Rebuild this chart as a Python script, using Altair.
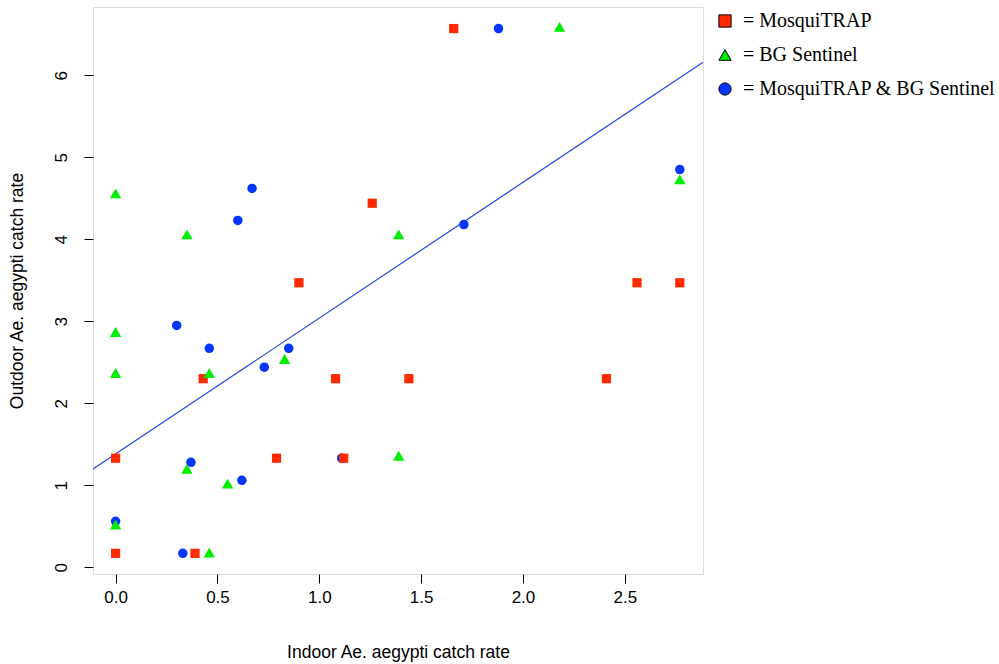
import altair as alt
import pandas as pd

# --- data ---
trap_names = ["MosquiTRAP", "BG Sentinel", "MosquiTRAP & BG Sentinel"]
trap_colors = ["#FF2A00", "#00EE00", "#0036FF"]
trap_shapes = ["square", "triangle-up", "circle"]
trap_sizes = [85, 130, 90]

mt_x = [0.00, 0.00, 0.39, 0.43, 0.79, 0.90, 1.08, 1.12, 1.26, 1.44, 1.66, 2.41, 2.56, 2.77]
mt_y = [0.17, 1.33, 0.17, 2.30, 1.33, 3.47, 2.30, 1.33, 4.44, 2.30, 6.57, 2.30, 3.47, 3.47]

bg_x = [0.00, 0.35, 0.00, 0.00, 0.46, 0.83, 0.35, 0.55, 0.00, 0.46, 1.39, 1.39, 2.18, 2.77]
bg_y = [4.56, 4.06, 2.87, 2.37, 2.37, 2.54, 1.20, 1.02, 0.52, 0.18, 1.36, 4.06, 6.59, 4.73]

both_x = [0.67, 0.60, 0.30, 0.46, 0.85, 0.73, 0.37, 0.62, 1.11, 0.00, 0.33, 1.71, 1.88, 2.77]
both_y = [4.62, 4.23, 2.95, 2.67, 2.67, 2.44, 1.28, 1.06, 1.33, 0.56, 0.17, 4.18, 6.57, 4.85]

fit_intercept = 1.383
fit_slope = 1.656

x_ticks = [0.0, 0.5, 1.0, 1.5, 2.0, 2.5]
y_ticks = [0, 1, 2, 3, 4, 5, 6]
x_domain = [-0.111, 2.884]
y_domain = [-0.082, 6.833]

series = {
    trap_names[0]: (mt_x, mt_y),
    trap_names[1]: (bg_x, bg_y),
    trap_names[2]: (both_x, both_y),
}

line_df = pd.DataFrame({
    "x": x_domain,
    "y": [fit_intercept + fit_slope * v for v in x_domain],
})

xscale = alt.Scale(domain=x_domain, nice=False, zero=False)
yscale = alt.Scale(domain=y_domain, nice=False, zero=False)

x_axis = alt.Axis(values=x_ticks, format=".1f", title="Indoor Ae. aegypti catch rate",
                  grid=False, domain=False, tickSize=9, tickColor="black",
                  labelFont="Liberation Sans", labelFontSize=17, labelColor="black",
                  labelPadding=6, titleFont="Liberation Sans", titleFontSize=17.5,
                  titleFontWeight="normal", titleColor="black", titlePadding=38)
y_axis = alt.Axis(values=y_ticks, format="d", title="Outdoor Ae. aegypti catch rate",
                  grid=False, domain=False, tickSize=9, tickColor="black",
                  labelAngle=270, labelAlign="center", labelBaseline="bottom",
                  labelFont="Liberation Sans", labelFontSize=17, labelColor="black",
                  labelPadding=14, titleFont="Liberation Sans", titleFontSize=17.5,
                  titleFontWeight="normal", titleColor="black", titlePadding=26)

legend = alt.Legend(title=None, orient="none", legendX=622, legendY=4,
                    labelExpr="'= ' + datum.label",
                    labelFont="Liberation Serif", labelFontSize=20,
                    labelColor="black", labelLimit=400,
                    symbolSize=150, symbolStrokeColor="black",
                    symbolStrokeWidth=1, labelOffset=8, rowPadding=14)

color_enc = alt.Color("trap:N", scale=alt.Scale(domain=trap_names, range=trap_colors),
                      legend=legend)
shape_enc = alt.Shape("trap:N", scale=alt.Scale(domain=trap_names, range=trap_shapes))

fit = alt.Chart(line_df).mark_line(color="#2548D8", strokeWidth=1.2, clip=True).encode(
    x=alt.X("x:Q", scale=xscale, axis=x_axis),
    y=alt.Y("y:Q", scale=yscale, axis=y_axis),
)

# draw order: circles, then squares, then triangles (as in the reference)
layers = [fit]
for idx in [2, 0, 1]:
    name = trap_names[idx]
    xs, ys = series[name]
    df = pd.DataFrame({"x": xs, "y": ys, "trap": [name] * len(xs)})
    layers.append(
        alt.Chart(df).mark_point(filled=True, opacity=1, size=trap_sizes[idx]).encode(
            x=alt.X("x:Q", scale=xscale),
            y=alt.Y("y:Q", scale=yscale),
            color=color_enc,
            shape=shape_enc,
        )
    )

chart = alt.layer(*layers).properties(
    width=610, height=567,
    autosize=alt.AutoSizeParams(type="none"),
    padding={"left": 93, "top": 7, "right": 296, "bottom": 90},
).configure_view(stroke="black", strokeWidth=1).configure(background="white")

chart.save("out.html", embed_options={"renderer": "svg", "actions": False})
